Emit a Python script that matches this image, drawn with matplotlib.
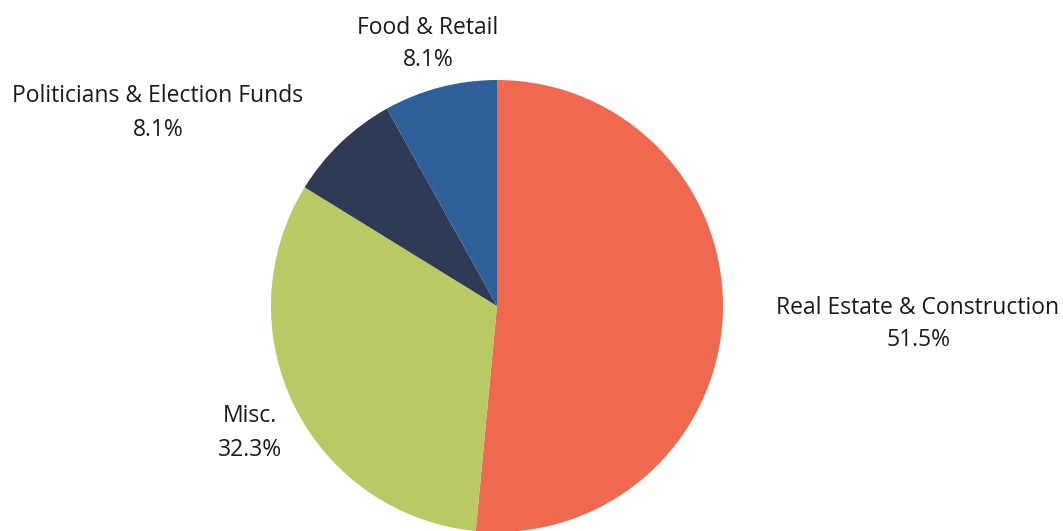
import matplotlib
matplotlib.use("Agg")
import matplotlib.pyplot as plt

# data
categories = ["Real Estate & Construction", "Misc.", "Politicians & Election Funds", "Food & Retail"]
shares = [51.5, 32.3, 8.1, 8.1]
colors = ["#EE6950", "#B9C963", "#2F3A57", "#2E5F98"]
# label centres (pixels, x right / y up) picked to follow the reference layout
label_x = [918, 250, 158, 428]
label_y = [207, 98, 418, 487]

plt.rcParams["font.family"] = ["Open Sans", "DejaVu Sans"]

fig = plt.figure(figsize=(10.63, 5.31), dpi=100)
ax = fig.add_axes([0, 0, 1, 1])

ax.pie(shares, colors=colors, startangle=90, counterclock=False,
       center=(497, 225), radius=226, frame=True,
       wedgeprops=dict(linewidth=0))
ax.set_xlim(0, 1063)
ax.set_ylim(0, 531)
ax.set_aspect("equal")
ax.axis("off")

for name, val, x, y in zip(categories, shares, label_x, label_y):
    ax.text(x, y, f"{name}\n{val}%", ha="center", va="center",
            fontsize=16.5, color="#1a1a1a", linespacing=1.5)

fig.savefig("out.png", dpi=100)
